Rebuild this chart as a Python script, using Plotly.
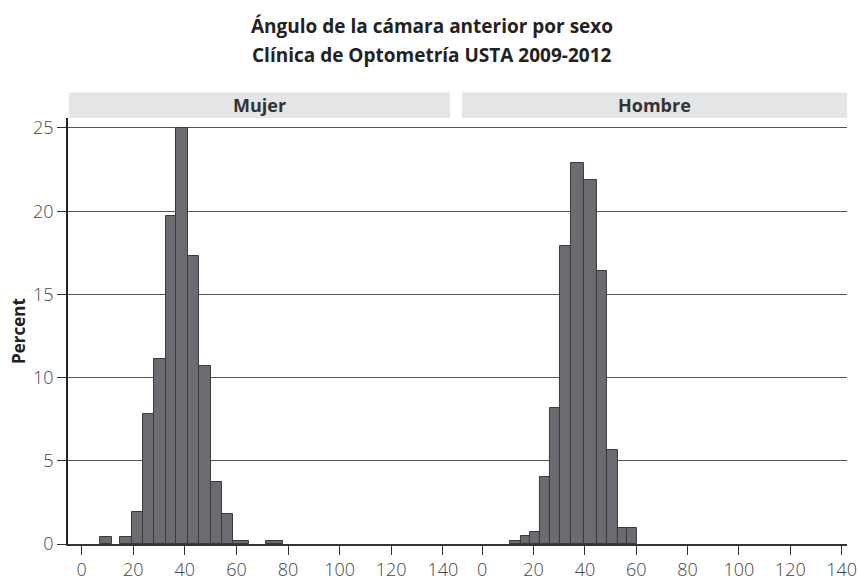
import plotly.graph_objects as go

# histogram bins (angle, percent)
MUJER_LEFT = [7.0, 14.8, 19.5, 23.8, 28.2, 32.6, 36.7, 41.2, 45.6, 50.0, 54.4, 58.7, 71.3]
MUJER_RIGHT = [11.7, 19.5, 23.8, 28.2, 32.6, 36.7, 41.2, 45.6, 50.0, 54.4, 58.7, 64.7, 78.0]
MUJER_PCT = [0.4, 0.4, 1.9, 7.8, 11.1, 19.7, 25.0, 17.3, 10.7, 3.7, 1.8, 0.2, 0.2]

HOMBRE_LEFT = [10.8, 15.0, 18.7, 22.5, 26.4, 30.3, 34.7, 39.7, 44.6, 48.5, 52.7, 56.5]
HOMBRE_RIGHT = [15.0, 18.7, 22.5, 26.4, 30.3, 34.7, 39.7, 44.6, 48.5, 52.7, 56.5, 60.1]
HOMBRE_PCT = [0.2, 0.5, 0.75, 4.05, 8.2, 17.9, 22.9, 21.9, 16.4, 5.66, 0.95, 0.95]

X_TICKS = [0, 20, 40, 60, 80, 100, 120, 140]
Y_TICKS = [0, 5, 10, 15, 20, 25]
PANELS = ["Mujer", "Hombre"]
TITLE = ["Ángulo de la cámara anterior por sexo",
         "Clínica de Optometría USTA 2009-2012"]

FONT = "Open Sans"
BAR_FILL = "#6b6c71"
BAR_LINE = "#3a3a3a"
GRID = "#555555"
STRIP = "#e4e5e6"
TICKFONT = dict(family=FONT, size=18, color="#444", weight=300)

W, H = 858, 581
ML, MR, MT, MB = 68, 11, 118, 37
PW, PH = W - ML - MR, H - MT - MB


def bars(lefts, rights, pct, xaxis):
    centers = [(a + b) / 2 for a, b in zip(lefts, rights)]
    widths = [b - a for a, b in zip(lefts, rights)]
    return go.Bar(x=centers, y=pct, width=widths, xaxis=xaxis, yaxis="y",
                  marker=dict(color=BAR_FILL, line=dict(color=BAR_LINE, width=1)),
                  showlegend=False, hoverinfo="x+y")


fig = go.Figure()
fig.add_trace(bars(MUJER_LEFT, MUJER_RIGHT, MUJER_PCT, "x"))
fig.add_trace(bars(HOMBRE_LEFT, HOMBRE_RIGHT, HOMBRE_PCT, "x2"))

xcommon = dict(tickvals=X_TICKS, ticks="outside", ticklen=9, tickcolor="#333",
               showgrid=False, zeroline=False, showline=True, linecolor="#333",
               linewidth=1.5, tickfont=TICKFONT, anchor="y", automargin=False)
split = 0.498
fig.update_layout(
    width=W, height=H,
    paper_bgcolor="white", plot_bgcolor="white",
    margin=dict(l=ML, r=MR, t=MT, b=MB),
    bargap=0,
    xaxis=dict(domain=[0, split], range=[-5.3, 145.1], **xcommon),
    xaxis2=dict(domain=[split, 1], range=[-10.25, 142.1], **xcommon),
    yaxis=dict(range=[0, 25.6], tickvals=Y_TICKS, ticks="outside", ticklen=9,
               tickcolor="#333", showgrid=True, gridcolor=GRID, gridwidth=1,
               zeroline=False, showline=True, linecolor="#222", linewidth=1.5,
               automargin=False, tickfont=TICKFONT),
)

# two-line title, placed as separate lines for spacing control
for i, line in enumerate(TITLE):
    fig.add_annotation(text=f"<b>{line}</b>", xref="paper", yref="paper",
                       x=0.467, y=1 + (MT - 26 - 29 * i) / PH,
                       xanchor="center", yanchor="middle", showarrow=False,
                       font=dict(family=FONT, size=19, color="#222"))

# panel header strips
strip_x = [(0.0013, 0.4904), (0.5058, 1.0)]
for (x0, x1), name in zip(strip_x, PANELS):
    fig.add_shape(type="rect", xref="paper", yref="paper", x0=x0, x1=x1,
                  y0=1.0, y1=1 + 25.5 / PH, fillcolor=STRIP, line=dict(width=0),
                  layer="below")
    fig.add_annotation(text=f"<b>{name}</b>", xref="paper", yref="paper",
                       x=(x0 + x1) / 2, y=1 + 12.75 / PH, xanchor="center",
                       yanchor="middle", showarrow=False,
                       font=dict(family=FONT, size=18, color="#333"))

fig.add_annotation(text="<b>Percent</b>", xref="paper", yref="paper",
                   x=-50 / PW, y=0.5, textangle=-90, xanchor="center",
                   yanchor="middle", showarrow=False,
                   font=dict(family=FONT, size=17, color="#222"))

# drop the default body margin so the figure fills the window exactly
fig.write_html("out.html", config={"displayModeBar": False},
               post_script="document.body.style.margin='0';")
